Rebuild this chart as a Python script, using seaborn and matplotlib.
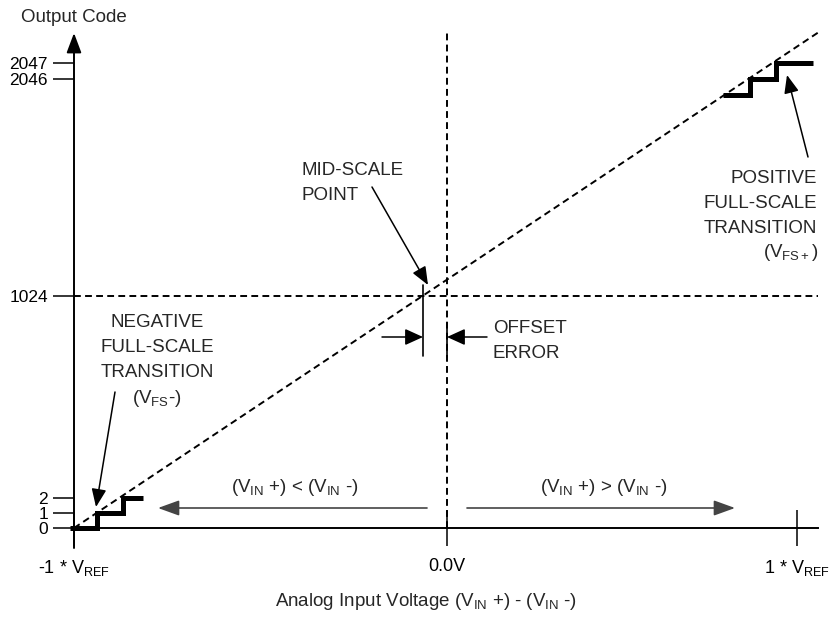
import matplotlib
matplotlib.use("Agg")
import matplotlib.pyplot as plt
import seaborn as sns
import numpy as np

sns.set_style("white")
plt.rcParams["font.family"] = ["Liberation Sans", "DejaVu Sans"]
plt.rcParams["mathtext.fontset"] = "custom"
plt.rcParams["mathtext.rm"] = "Liberation Sans"
plt.rcParams["mathtext.it"] = "Liberation Sans:italic"
plt.rcParams["mathtext.bf"] = "Liberation Sans:bold"

# ---- values ----
x_ticks = [-1, 0, 1]                      # input voltage, in units of VREF
x_labels = [r"-1 * V$_\mathregular{REF}$", "0.0V", r"1 * V$_\mathregular{REF}$"]
code_ticks = [0, 1, 2, 1024, 2046, 2047]  # output codes
code_labels = ["0", "1", "2", "1024", "2046", "2047"]

neg_step_v = [-1.011, -0.938, -0.869, -0.815]
neg_step_code = [0, 1, 2, 2]
pos_step_v = [0.789, 0.866, 0.940, 1.046]
pos_step_code = [2045, 2046, 2047, 2047]

transfer_v = [-1.0, 1.06]          # real transfer line (dashed)
transfer_code = [0, 2048.9]
mid_code = 1024
mid_scale_v = -0.064               # where the real line crosses mid scale
axis_end_v = 1.06
axis_top_code = 2048.9

# ---- schematic (broken) axes: where the key values sit on the page ----
W, H = 837, 619
X_KNOTS, X_PIX = [-1, 0, 1], [74, 447, 797]
Y_KNOTS = [0, 1, 2, 1024, 2045, 2046, 2047]
Y_PIX = [91, 106, 121, 323, 524, 540, 556]


def piecewise(v, xp, fp):
    v = np.asarray(v, dtype=float)
    out = np.interp(v, xp, fp)
    lo = (fp[1] - fp[0]) / (xp[1] - xp[0])
    hi = (fp[-1] - fp[-2]) / (xp[-1] - xp[-2])
    out = np.where(v < xp[0], fp[0] + (v - xp[0]) * lo, out)
    out = np.where(v > xp[-1], fp[-1] + (v - xp[-1]) * hi, out)
    return out


fx = (lambda v: piecewise(v, X_KNOTS, X_PIX), lambda p: piecewise(p, X_PIX, X_KNOTS))
fy = (lambda c: piecewise(c, Y_KNOTS, Y_PIX), lambda p: piecewise(p, Y_PIX, Y_KNOTS))


def page(x, y):
    # page position in pixels -> axes fraction (axes fill the figure)
    return (x / W, 1 - y / H)


fig = plt.figure(figsize=(W / 100, H / 100), dpi=100)
ax = fig.add_axes([0, 0, 1, 1])
ax.set_xscale("function", functions=fx)
ax.set_yscale("function", functions=fy)

# ========================
# transfer function
# ========================
dash = (0, (3.5, 2.2))
sns.lineplot(x=transfer_v, y=transfer_code, estimator=None, ax=ax,
             color="black", linewidth=1.4, linestyle=dash)
ax.plot([x_ticks[0], axis_end_v], [mid_code, mid_code], color="black", lw=1.4, ls=dash)
ax.plot([0, 0], [0, axis_top_code], color="black", lw=1.4, ls=dash)

step_kws = dict(color="black", linewidth=3.6, drawstyle="steps-post",
                solid_joinstyle="miter", solid_capstyle="butt")
sns.lineplot(x=neg_step_v, y=neg_step_code, estimator=None, ax=ax, **step_kws)
sns.lineplot(x=pos_step_v, y=pos_step_code, estimator=None, ax=ax, **step_kws)

# ========================
# axes
# ========================
ax.set_xlim(float(fx[1](0)), float(fx[1](W)))
ax.set_ylim(float(fy[1](0)), float(fy[1](H)))
for s in ["top", "right"]:
    ax.spines[s].set_visible(False)
ax.spines["left"].set_position(("data", -1))
ax.spines["left"].set_visible(False)
ax.spines["bottom"].set_position(("data", 0))
ax.spines["bottom"].set_bounds(x_ticks[0], axis_end_v)
ax.spines["bottom"].set_linewidth(1.4)
ax.spines["bottom"].set_color("black")

ax.set_xticks(x_ticks)
ax.set_xticklabels(x_labels)
ax.set_yticks(code_ticks)
ax.set_yticklabels(code_labels)
ax.minorticks_off()
ax.xaxis.set_ticks_position("bottom")
ax.yaxis.set_ticks_position("left")
ax.tick_params(axis="x", direction="inout", length=26.6, width=1.1, pad=8,
               labelsize=13, colors="black")
ax.tick_params(axis="y", direction="out", length=15, width=1.1, pad=3.7,
               labelsize=12.5, colors="black")

xt = ax.get_xaxis_transform()
ax.annotate("", xy=(-1, 1 - 33 / H), xytext=(-1, 1 - 548 / H),
            xycoords=xt, textcoords=xt,
            arrowprops=dict(arrowstyle="-|>,head_length=1.2,head_width=0.45",
                            mutation_scale=10, color="black", lw=1.4,
                            shrinkA=0, shrinkB=0))

fig.text(*page(21, 22), "Output Code", fontsize=13.5, va="baseline")
fig.text(*page(426, 606), r"Analog Input Voltage (V$_\mathregular{IN}$ +) - (V$_\mathregular{IN}$ -)",
         fontsize=13.5, ha="center", va="baseline")

# ========================
# annotations
# ========================
def arrow(start, tip, color="black", lw=1.1, hl=1.1, hw=0.45):
    ax.annotate("", xy=page(*tip), xytext=page(*start),
                xycoords="axes fraction", textcoords="axes fraction",
                arrowprops=dict(arrowstyle=f"-|>,head_length={hl},head_width={hw}",
                                mutation_scale=10, color=color, lw=lw,
                                shrinkA=0, shrinkB=0))


txt = dict(fontsize=13.5, linespacing=1.6, transform=ax.transAxes)

ax.text(*page(157, 314), "NEGATIVE\nFULL-SCALE\nTRANSITION", ha="center", va="top",
        multialignment="center", **txt)
ax.text(*page(157, 403), r"(V$_\mathregular{FS}$-)", ha="center", va="baseline", **txt)
arrow((115, 392), (96, 507))

ax.text(*page(302, 162), "MID-SCALE\nPOINT", ha="left", va="top", **txt)
arrow((372, 187), (428, 285))

ax.text(*page(817, 170), "POSITIVE\nFULL-SCALE\nTRANSITION", ha="right", va="top",
        multialignment="right", **txt)
ax.text(*page(818, 257), r"(V$_\mathregular{FS+}$)", ha="right", va="baseline", **txt)
arrow((808, 157), (787, 75))

# offset error markers
ax.plot([mid_scale_v, mid_scale_v], [1 - 285 / H, 1 - 356 / H], transform=xt,
        color="black", lw=1.2)
ax.plot([0, 0], [1 - 323 / H, 1 - 357 / H], transform=xt, color="black", lw=1.2)
arrow((382, 337), (423, 337), hl=1.1, hw=0.5)
arrow((487, 337), (447, 337), hl=1.1, hw=0.5)
ax.text(*page(493, 320), "OFFSET\nERROR", ha="left", va="top", **txt)

# input polarity arrows
arrow((427, 508), (158, 508), color="#444444", lw=1.2, hl=1.3, hw=0.47)
arrow((467, 508), (735, 508), color="#444444", lw=1.2, hl=1.3, hw=0.47)
ax.text(*page(295, 492), r"(V$_\mathregular{IN}$ +) < (V$_\mathregular{IN}$ -)",
        ha="center", va="baseline", **txt)
ax.text(*page(604, 492), r"(V$_\mathregular{IN}$ +) > (V$_\mathregular{IN}$ -)",
        ha="center", va="baseline", **txt)

fig.savefig("out.png", dpi=100)
